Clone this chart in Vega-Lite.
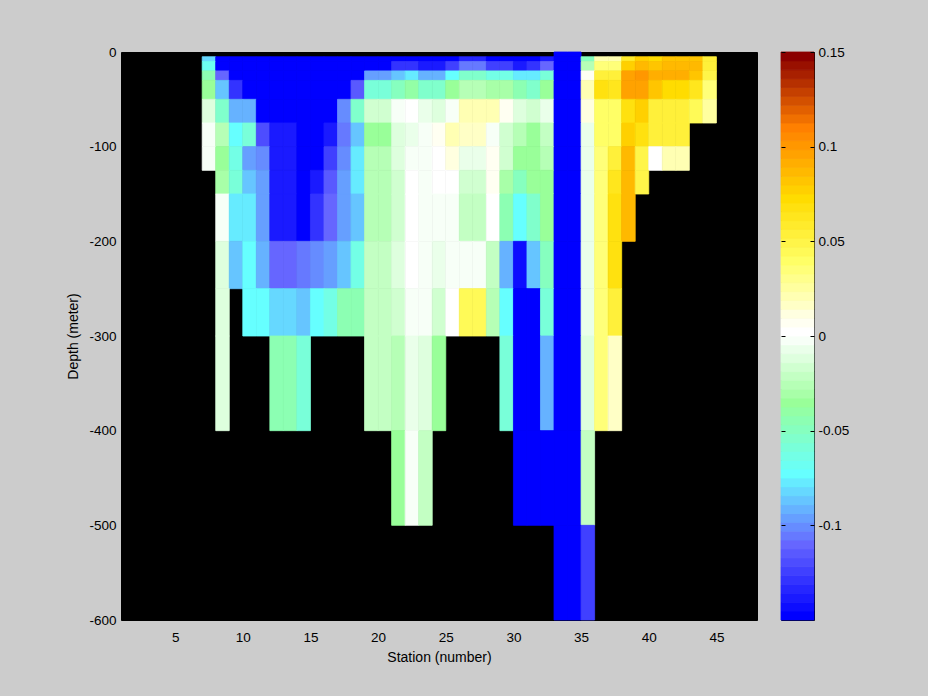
{"$schema":"https://vega.github.io/schema/vega-lite/v6.json","background":"#cccccc","padding":{"left":66,"top":44,"right":85,"bottom":33},"spacing":22,"config":{"font":"Liberation Sans","axis":{"labelFont":"Liberation Sans","titleFont":"Liberation Sans","labelFontSize":13.5,"titleFontSize":14,"titleFontWeight":"normal","labelColor":"#000000","titleColor":"#000000","grid":false}},"hconcat":[{"width":636,"height":568,"view":{"fill":"#000000","stroke":"#000000"},"data":{"values":[
{"s":33,"e":34,"v":-0.15,"t":0,"b":-5},{"s":34,"e":35,"v":-0.15,"t":0,"b":-5},
{"s":7,"e":8,"v":-0.082,"t":-5,"b":-10},{"s":8,"e":9,"v":-0.15,"t":-5,"b":-10},{"s":9,"e":10,"v":-0.15,"t":-5,"b":-10},{"s":10,"e":11,"v":-0.15,"t":-5,"b":-10},{"s":11,"e":12,"v":-0.15,"t":-5,"b":-10},{"s":12,"e":13,"v":-0.15,"t":-5,"b":-10},{"s":13,"e":14,"v":-0.15,"t":-5,"b":-10},{"s":14,"e":15,"v":-0.15,"t":-5,"b":-10},{"s":15,"e":16,"v":-0.15,"t":-5,"b":-10},{"s":16,"e":17,"v":-0.15,"t":-5,"b":-10},{"s":17,"e":18,"v":-0.15,"t":-5,"b":-10},{"s":18,"e":19,"v":-0.15,"t":-5,"b":-10},{"s":19,"e":20,"v":-0.15,"t":-5,"b":-10},{"s":20,"e":21,"v":-0.15,"t":-5,"b":-10},{"s":21,"e":22,"v":-0.15,"t":-5,"b":-10},{"s":22,"e":23,"v":-0.15,"t":-5,"b":-10},{"s":23,"e":24,"v":-0.15,"t":-5,"b":-10},{"s":24,"e":25,"v":-0.15,"t":-5,"b":-10},{"s":25,"e":26,"v":-0.15,"t":-5,"b":-10},{"s":26,"e":27,"v":-0.135,"t":-5,"b":-10},{"s":27,"e":28,"v":-0.135,"t":-5,"b":-10},{"s":28,"e":29,"v":-0.15,"t":-5,"b":-10},{"s":29,"e":30,"v":-0.15,"t":-5,"b":-10},{"s":30,"e":31,"v":-0.15,"t":-5,"b":-10},{"s":31,"e":32,"v":-0.15,"t":-5,"b":-10},{"s":32,"e":33,"v":-0.138,"t":-5,"b":-10},{"s":33,"e":34,"v":-0.15,"t":-5,"b":-10},{"s":34,"e":35,"v":-0.15,"t":-5,"b":-10},{"s":35,"e":36,"v":-0.05,"t":-5,"b":-10},{"s":36,"e":37,"v":0.022,"t":-5,"b":-10},{"s":37,"e":38,"v":0.022,"t":-5,"b":-10},{"s":38,"e":39,"v":0.06,"t":-5,"b":-10},{"s":39,"e":40,"v":0.075,"t":-5,"b":-10},{"s":40,"e":41,"v":0.072,"t":-5,"b":-10},{"s":41,"e":42,"v":0.083,"t":-5,"b":-10},{"s":42,"e":43,"v":0.083,"t":-5,"b":-10},{"s":43,"e":44,"v":0.083,"t":-5,"b":-10},{"s":44,"e":45,"v":0.055,"t":-5,"b":-10},
{"s":7,"e":8,"v":-0.068,"t":-10,"b":-20},{"s":8,"e":9,"v":-0.15,"t":-10,"b":-20},{"s":9,"e":10,"v":-0.15,"t":-10,"b":-20},{"s":10,"e":11,"v":-0.15,"t":-10,"b":-20},{"s":11,"e":12,"v":-0.15,"t":-10,"b":-20},{"s":12,"e":13,"v":-0.15,"t":-10,"b":-20},{"s":13,"e":14,"v":-0.15,"t":-10,"b":-20},{"s":14,"e":15,"v":-0.15,"t":-10,"b":-20},{"s":15,"e":16,"v":-0.15,"t":-10,"b":-20},{"s":16,"e":17,"v":-0.15,"t":-10,"b":-20},{"s":17,"e":18,"v":-0.15,"t":-10,"b":-20},{"s":18,"e":19,"v":-0.15,"t":-10,"b":-20},{"s":19,"e":20,"v":-0.15,"t":-10,"b":-20},{"s":20,"e":21,"v":-0.15,"t":-10,"b":-20},{"s":21,"e":22,"v":-0.13,"t":-10,"b":-20},{"s":22,"e":23,"v":-0.13,"t":-10,"b":-20},{"s":23,"e":24,"v":-0.14,"t":-10,"b":-20},{"s":24,"e":25,"v":-0.14,"t":-10,"b":-20},{"s":25,"e":26,"v":-0.125,"t":-10,"b":-20},{"s":26,"e":27,"v":-0.105,"t":-10,"b":-20},{"s":27,"e":28,"v":-0.105,"t":-10,"b":-20},{"s":28,"e":29,"v":-0.125,"t":-10,"b":-20},{"s":29,"e":30,"v":-0.125,"t":-10,"b":-20},{"s":30,"e":31,"v":-0.138,"t":-10,"b":-20},{"s":31,"e":32,"v":-0.13,"t":-10,"b":-20},{"s":32,"e":33,"v":-0.11,"t":-10,"b":-20},{"s":33,"e":34,"v":-0.15,"t":-10,"b":-20},{"s":34,"e":35,"v":-0.15,"t":-10,"b":-20},{"s":35,"e":36,"v":-0.028,"t":-10,"b":-20},{"s":36,"e":37,"v":0.033,"t":-10,"b":-20},{"s":37,"e":38,"v":0.033,"t":-10,"b":-20},{"s":38,"e":39,"v":0.076,"t":-10,"b":-20},{"s":39,"e":40,"v":0.087,"t":-10,"b":-20},{"s":40,"e":41,"v":0.082,"t":-10,"b":-20},{"s":41,"e":42,"v":0.087,"t":-10,"b":-20},{"s":42,"e":43,"v":0.087,"t":-10,"b":-20},{"s":43,"e":44,"v":0.087,"t":-10,"b":-20},{"s":44,"e":45,"v":0.055,"t":-10,"b":-20},
{"s":7,"e":8,"v":-0.045,"t":-20,"b":-30},{"s":8,"e":9,"v":-0.11,"t":-20,"b":-30},{"s":9,"e":10,"v":-0.15,"t":-20,"b":-30},{"s":10,"e":11,"v":-0.15,"t":-20,"b":-30},{"s":11,"e":12,"v":-0.15,"t":-20,"b":-30},{"s":12,"e":13,"v":-0.15,"t":-20,"b":-30},{"s":13,"e":14,"v":-0.15,"t":-20,"b":-30},{"s":14,"e":15,"v":-0.15,"t":-20,"b":-30},{"s":15,"e":16,"v":-0.15,"t":-20,"b":-30},{"s":16,"e":17,"v":-0.15,"t":-20,"b":-30},{"s":17,"e":18,"v":-0.15,"t":-20,"b":-30},{"s":18,"e":19,"v":-0.15,"t":-20,"b":-30},{"s":19,"e":20,"v":-0.095,"t":-20,"b":-30},{"s":20,"e":21,"v":-0.095,"t":-20,"b":-30},{"s":21,"e":22,"v":-0.085,"t":-20,"b":-30},{"s":22,"e":23,"v":-0.078,"t":-20,"b":-30},{"s":23,"e":24,"v":-0.09,"t":-20,"b":-30},{"s":24,"e":25,"v":-0.09,"t":-20,"b":-30},{"s":25,"e":26,"v":-0.074,"t":-20,"b":-30},{"s":26,"e":27,"v":-0.052,"t":-20,"b":-30},{"s":27,"e":28,"v":-0.052,"t":-20,"b":-30},{"s":28,"e":29,"v":-0.065,"t":-20,"b":-30},{"s":29,"e":30,"v":-0.065,"t":-20,"b":-30},{"s":30,"e":31,"v":-0.078,"t":-20,"b":-30},{"s":31,"e":32,"v":-0.078,"t":-20,"b":-30},{"s":32,"e":33,"v":-0.06,"t":-20,"b":-30},{"s":33,"e":34,"v":-0.15,"t":-20,"b":-30},{"s":34,"e":35,"v":-0.15,"t":-20,"b":-30},{"s":35,"e":36,"v":0.008,"t":-20,"b":-30},{"s":36,"e":37,"v":0.056,"t":-20,"b":-30},{"s":37,"e":38,"v":0.056,"t":-20,"b":-30},{"s":38,"e":39,"v":0.095,"t":-20,"b":-30},{"s":39,"e":40,"v":0.103,"t":-20,"b":-30},{"s":40,"e":41,"v":0.091,"t":-20,"b":-30},{"s":41,"e":42,"v":0.091,"t":-20,"b":-30},{"s":42,"e":43,"v":0.091,"t":-20,"b":-30},{"s":43,"e":44,"v":0.083,"t":-20,"b":-30},{"s":44,"e":45,"v":0.05,"t":-20,"b":-30},
{"s":7,"e":8,"v":-0.033,"t":-30,"b":-50},{"s":8,"e":9,"v":-0.085,"t":-30,"b":-50},{"s":9,"e":10,"v":-0.13,"t":-30,"b":-50},{"s":10,"e":11,"v":-0.15,"t":-30,"b":-50},{"s":11,"e":12,"v":-0.15,"t":-30,"b":-50},{"s":12,"e":13,"v":-0.15,"t":-30,"b":-50},{"s":13,"e":14,"v":-0.15,"t":-30,"b":-50},{"s":14,"e":15,"v":-0.15,"t":-30,"b":-50},{"s":15,"e":16,"v":-0.15,"t":-30,"b":-50},{"s":16,"e":17,"v":-0.15,"t":-30,"b":-50},{"s":17,"e":18,"v":-0.15,"t":-30,"b":-50},{"s":18,"e":19,"v":-0.115,"t":-30,"b":-50},{"s":19,"e":20,"v":-0.06,"t":-30,"b":-50},{"s":20,"e":21,"v":-0.06,"t":-30,"b":-50},{"s":21,"e":22,"v":-0.047,"t":-30,"b":-50},{"s":22,"e":23,"v":-0.042,"t":-30,"b":-50},{"s":23,"e":24,"v":-0.055,"t":-30,"b":-50},{"s":24,"e":25,"v":-0.055,"t":-30,"b":-50},{"s":25,"e":26,"v":-0.037,"t":-30,"b":-50},{"s":26,"e":27,"v":-0.024,"t":-30,"b":-50},{"s":27,"e":28,"v":-0.024,"t":-30,"b":-50},{"s":28,"e":29,"v":-0.03,"t":-30,"b":-50},{"s":29,"e":30,"v":-0.03,"t":-30,"b":-50},{"s":30,"e":31,"v":-0.043,"t":-30,"b":-50},{"s":31,"e":32,"v":-0.052,"t":-30,"b":-50},{"s":32,"e":33,"v":-0.035,"t":-30,"b":-50},{"s":33,"e":34,"v":-0.15,"t":-30,"b":-50},{"s":34,"e":35,"v":-0.15,"t":-30,"b":-50},{"s":35,"e":36,"v":0.022,"t":-30,"b":-50},{"s":36,"e":37,"v":0.069,"t":-30,"b":-50},{"s":37,"e":38,"v":0.064,"t":-30,"b":-50},{"s":38,"e":39,"v":0.095,"t":-30,"b":-50},{"s":39,"e":40,"v":0.095,"t":-30,"b":-50},{"s":40,"e":41,"v":0.083,"t":-30,"b":-50},{"s":41,"e":42,"v":0.074,"t":-30,"b":-50},{"s":42,"e":43,"v":0.074,"t":-30,"b":-50},{"s":43,"e":44,"v":0.064,"t":-30,"b":-50},{"s":44,"e":45,"v":0.037,"t":-30,"b":-50},
{"s":7,"e":8,"v":-0.013,"t":-50,"b":-75},{"s":8,"e":9,"v":-0.055,"t":-50,"b":-75},{"s":9,"e":10,"v":-0.09,"t":-50,"b":-75},{"s":10,"e":11,"v":-0.09,"t":-50,"b":-75},{"s":11,"e":12,"v":-0.15,"t":-50,"b":-75},{"s":12,"e":13,"v":-0.15,"t":-50,"b":-75},{"s":13,"e":14,"v":-0.15,"t":-50,"b":-75},{"s":14,"e":15,"v":-0.15,"t":-50,"b":-75},{"s":15,"e":16,"v":-0.15,"t":-50,"b":-75},{"s":16,"e":17,"v":-0.15,"t":-50,"b":-75},{"s":17,"e":18,"v":-0.1,"t":-50,"b":-75},{"s":18,"e":19,"v":-0.052,"t":-50,"b":-75},{"s":19,"e":20,"v":-0.017,"t":-50,"b":-75},{"s":20,"e":21,"v":-0.017,"t":-50,"b":-75},{"s":21,"e":22,"v":-0.002,"t":-50,"b":-75},{"s":22,"e":23,"v":0.004,"t":-50,"b":-75},{"s":23,"e":24,"v":-0.007,"t":-50,"b":-75},{"s":24,"e":25,"v":-0.011,"t":-50,"b":-75},{"s":25,"e":26,"v":-0.003,"t":-50,"b":-75},{"s":26,"e":27,"v":0.02,"t":-50,"b":-75},{"s":27,"e":28,"v":0.02,"t":-50,"b":-75},{"s":28,"e":29,"v":0.02,"t":-50,"b":-75},{"s":29,"e":30,"v":0.007,"t":-50,"b":-75},{"s":30,"e":31,"v":-0.011,"t":-50,"b":-75},{"s":31,"e":32,"v":-0.017,"t":-50,"b":-75},{"s":32,"e":33,"v":-0.005,"t":-50,"b":-75},{"s":33,"e":34,"v":-0.15,"t":-50,"b":-75},{"s":34,"e":35,"v":-0.15,"t":-50,"b":-75},{"s":35,"e":36,"v":0.013,"t":-50,"b":-75},{"s":36,"e":37,"v":0.041,"t":-50,"b":-75},{"s":37,"e":38,"v":0.041,"t":-50,"b":-75},{"s":38,"e":39,"v":0.068,"t":-50,"b":-75},{"s":39,"e":40,"v":0.076,"t":-50,"b":-75},{"s":40,"e":41,"v":0.054,"t":-50,"b":-75},{"s":41,"e":42,"v":0.054,"t":-50,"b":-75},{"s":42,"e":43,"v":0.054,"t":-50,"b":-75},{"s":43,"e":44,"v":0.045,"t":-50,"b":-75},{"s":44,"e":45,"v":0.024,"t":-50,"b":-75},
{"s":7,"e":8,"v":-0.001,"t":-75,"b":-100},{"s":8,"e":9,"v":-0.028,"t":-75,"b":-100},{"s":9,"e":10,"v":-0.074,"t":-75,"b":-100},{"s":10,"e":11,"v":-0.06,"t":-75,"b":-100},{"s":11,"e":12,"v":-0.12,"t":-75,"b":-100},{"s":12,"e":13,"v":-0.14,"t":-75,"b":-100},{"s":13,"e":14,"v":-0.14,"t":-75,"b":-100},{"s":14,"e":15,"v":-0.15,"t":-75,"b":-100},{"s":15,"e":16,"v":-0.15,"t":-75,"b":-100},{"s":16,"e":17,"v":-0.14,"t":-75,"b":-100},{"s":17,"e":18,"v":-0.105,"t":-75,"b":-100},{"s":18,"e":19,"v":-0.085,"t":-75,"b":-100},{"s":19,"e":20,"v":-0.037,"t":-75,"b":-100},{"s":20,"e":21,"v":-0.037,"t":-75,"b":-100},{"s":21,"e":22,"v":-0.011,"t":-75,"b":-100},{"s":22,"e":23,"v":-0.007,"t":-75,"b":-100},{"s":23,"e":24,"v":-0.002,"t":-75,"b":-100},{"s":24,"e":25,"v":0.008,"t":-75,"b":-100},{"s":25,"e":26,"v":0.02,"t":-75,"b":-100},{"s":26,"e":27,"v":0.015,"t":-75,"b":-100},{"s":27,"e":28,"v":0.015,"t":-75,"b":-100},{"s":28,"e":29,"v":-0.002,"t":-75,"b":-100},{"s":29,"e":30,"v":-0.017,"t":-75,"b":-100},{"s":30,"e":31,"v":-0.028,"t":-75,"b":-100},{"s":31,"e":32,"v":-0.033,"t":-75,"b":-100},{"s":32,"e":33,"v":-0.022,"t":-75,"b":-100},{"s":33,"e":34,"v":-0.15,"t":-75,"b":-100},{"s":34,"e":35,"v":-0.15,"t":-75,"b":-100},{"s":35,"e":36,"v":-0.007,"t":-75,"b":-100},{"s":36,"e":37,"v":0.04,"t":-75,"b":-100},{"s":37,"e":38,"v":0.04,"t":-75,"b":-100},{"s":38,"e":39,"v":0.076,"t":-75,"b":-100},{"s":39,"e":40,"v":0.068,"t":-75,"b":-100},{"s":40,"e":41,"v":0.055,"t":-75,"b":-100},{"s":41,"e":42,"v":0.052,"t":-75,"b":-100},{"s":42,"e":43,"v":0.052,"t":-75,"b":-100},
{"s":7,"e":8,"v":-0.002,"t":-100,"b":-125},{"s":8,"e":9,"v":-0.037,"t":-100,"b":-125},{"s":9,"e":10,"v":-0.065,"t":-100,"b":-125},{"s":10,"e":11,"v":-0.095,"t":-100,"b":-125},{"s":11,"e":12,"v":-0.1,"t":-100,"b":-125},{"s":12,"e":13,"v":-0.14,"t":-100,"b":-125},{"s":13,"e":14,"v":-0.14,"t":-100,"b":-125},{"s":14,"e":15,"v":-0.15,"t":-100,"b":-125},{"s":15,"e":16,"v":-0.15,"t":-100,"b":-125},{"s":16,"e":17,"v":-0.125,"t":-100,"b":-125},{"s":17,"e":18,"v":-0.1,"t":-100,"b":-125},{"s":18,"e":19,"v":-0.078,"t":-100,"b":-125},{"s":19,"e":20,"v":-0.026,"t":-100,"b":-125},{"s":20,"e":21,"v":-0.026,"t":-100,"b":-125},{"s":21,"e":22,"v":-0.011,"t":-100,"b":-125},{"s":22,"e":23,"v":-0.003,"t":-100,"b":-125},{"s":23,"e":24,"v":-0.002,"t":-100,"b":-125},{"s":24,"e":25,"v":0.003,"t":-100,"b":-125},{"s":25,"e":26,"v":0.01,"t":-100,"b":-125},{"s":26,"e":27,"v":-0.007,"t":-100,"b":-125},{"s":27,"e":28,"v":-0.007,"t":-100,"b":-125},{"s":28,"e":29,"v":0.008,"t":-100,"b":-125},{"s":29,"e":30,"v":-0.017,"t":-100,"b":-125},{"s":30,"e":31,"v":-0.035,"t":-100,"b":-125},{"s":31,"e":32,"v":-0.035,"t":-100,"b":-125},{"s":32,"e":33,"v":-0.028,"t":-100,"b":-125},{"s":33,"e":34,"v":-0.15,"t":-100,"b":-125},{"s":34,"e":35,"v":-0.15,"t":-100,"b":-125},{"s":35,"e":36,"v":-0.006,"t":-100,"b":-125},{"s":36,"e":37,"v":0.037,"t":-100,"b":-125},{"s":37,"e":38,"v":0.055,"t":-100,"b":-125},{"s":38,"e":39,"v":0.087,"t":-100,"b":-125},{"s":39,"e":40,"v":0.049,"t":-100,"b":-125},{"s":40,"e":41,"v":0.003,"t":-100,"b":-125},{"s":41,"e":42,"v":0.022,"t":-100,"b":-125},{"s":42,"e":43,"v":0.022,"t":-100,"b":-125},
{"s":8,"e":9,"v":-0.03,"t":-125,"b":-150},{"s":9,"e":10,"v":-0.06,"t":-125,"b":-150},{"s":10,"e":11,"v":-0.085,"t":-125,"b":-150},{"s":11,"e":12,"v":-0.095,"t":-125,"b":-150},{"s":12,"e":13,"v":-0.14,"t":-125,"b":-150},{"s":13,"e":14,"v":-0.14,"t":-125,"b":-150},{"s":14,"e":15,"v":-0.148,"t":-125,"b":-150},{"s":15,"e":16,"v":-0.14,"t":-125,"b":-150},{"s":16,"e":17,"v":-0.115,"t":-125,"b":-150},{"s":17,"e":18,"v":-0.095,"t":-125,"b":-150},{"s":18,"e":19,"v":-0.078,"t":-125,"b":-150},{"s":19,"e":20,"v":-0.026,"t":-125,"b":-150},{"s":20,"e":21,"v":-0.026,"t":-125,"b":-150},{"s":21,"e":22,"v":-0.017,"t":-125,"b":-150},{"s":22,"e":23,"v":0.004,"t":-125,"b":-150},{"s":23,"e":24,"v":-0.002,"t":-125,"b":-150},{"s":24,"e":25,"v":0.002,"t":-125,"b":-150},{"s":25,"e":26,"v":0.002,"t":-125,"b":-150},{"s":26,"e":27,"v":-0.018,"t":-125,"b":-150},{"s":27,"e":28,"v":-0.018,"t":-125,"b":-150},{"s":28,"e":29,"v":0.008,"t":-125,"b":-150},{"s":29,"e":30,"v":-0.03,"t":-125,"b":-150},{"s":30,"e":31,"v":-0.047,"t":-125,"b":-150},{"s":31,"e":32,"v":-0.037,"t":-125,"b":-150},{"s":32,"e":33,"v":-0.033,"t":-125,"b":-150},{"s":33,"e":34,"v":-0.15,"t":-125,"b":-150},{"s":34,"e":35,"v":-0.15,"t":-125,"b":-150},{"s":35,"e":36,"v":-0.006,"t":-125,"b":-150},{"s":36,"e":37,"v":0.037,"t":-125,"b":-150},{"s":37,"e":38,"v":0.062,"t":-125,"b":-150},{"s":38,"e":39,"v":0.087,"t":-125,"b":-150},{"s":39,"e":40,"v":0.049,"t":-125,"b":-150},
{"s":8,"e":9,"v":-0.002,"t":-150,"b":-200},{"s":9,"e":10,"v":-0.079,"t":-150,"b":-200},{"s":10,"e":11,"v":-0.079,"t":-150,"b":-200},{"s":11,"e":12,"v":-0.095,"t":-150,"b":-200},{"s":12,"e":13,"v":-0.14,"t":-150,"b":-200},{"s":13,"e":14,"v":-0.14,"t":-150,"b":-200},{"s":14,"e":15,"v":-0.146,"t":-150,"b":-200},{"s":15,"e":16,"v":-0.13,"t":-150,"b":-200},{"s":16,"e":17,"v":-0.11,"t":-150,"b":-200},{"s":17,"e":18,"v":-0.095,"t":-150,"b":-200},{"s":18,"e":19,"v":-0.085,"t":-150,"b":-200},{"s":19,"e":20,"v":-0.026,"t":-150,"b":-200},{"s":20,"e":21,"v":-0.026,"t":-150,"b":-200},{"s":21,"e":22,"v":-0.017,"t":-150,"b":-200},{"s":22,"e":23,"v":0.003,"t":-150,"b":-200},{"s":23,"e":24,"v":-0.002,"t":-150,"b":-200},{"s":24,"e":25,"v":-0.002,"t":-150,"b":-200},{"s":25,"e":26,"v":-0.002,"t":-150,"b":-200},{"s":26,"e":27,"v":-0.022,"t":-150,"b":-200},{"s":27,"e":28,"v":-0.022,"t":-150,"b":-200},{"s":28,"e":29,"v":0.004,"t":-150,"b":-200},{"s":29,"e":30,"v":-0.043,"t":-150,"b":-200},{"s":30,"e":31,"v":-0.074,"t":-150,"b":-200},{"s":31,"e":32,"v":-0.052,"t":-150,"b":-200},{"s":32,"e":33,"v":-0.035,"t":-150,"b":-200},{"s":33,"e":34,"v":-0.15,"t":-150,"b":-200},{"s":34,"e":35,"v":-0.15,"t":-150,"b":-200},{"s":35,"e":36,"v":-0.006,"t":-150,"b":-200},{"s":36,"e":37,"v":0.037,"t":-150,"b":-200},{"s":37,"e":38,"v":0.068,"t":-150,"b":-200},{"s":38,"e":39,"v":0.087,"t":-150,"b":-200},
{"s":8,"e":9,"v":-0.012,"t":-200,"b":-250},{"s":9,"e":10,"v":-0.085,"t":-200,"b":-250},{"s":10,"e":11,"v":-0.074,"t":-200,"b":-250},{"s":11,"e":12,"v":-0.09,"t":-200,"b":-250},{"s":12,"e":13,"v":-0.11,"t":-200,"b":-250},{"s":13,"e":14,"v":-0.11,"t":-200,"b":-250},{"s":14,"e":15,"v":-0.105,"t":-200,"b":-250},{"s":15,"e":16,"v":-0.1,"t":-200,"b":-250},{"s":16,"e":17,"v":-0.095,"t":-200,"b":-250},{"s":17,"e":18,"v":-0.085,"t":-200,"b":-250},{"s":18,"e":19,"v":-0.062,"t":-200,"b":-250},{"s":19,"e":20,"v":-0.02,"t":-200,"b":-250},{"s":20,"e":21,"v":-0.02,"t":-200,"b":-250},{"s":21,"e":22,"v":-0.011,"t":-200,"b":-250},{"s":22,"e":23,"v":0.003,"t":-200,"b":-250},{"s":23,"e":24,"v":-0.002,"t":-200,"b":-250},{"s":24,"e":25,"v":-0.007,"t":-200,"b":-250},{"s":25,"e":26,"v":-0.002,"t":-200,"b":-250},{"s":26,"e":27,"v":-0.002,"t":-200,"b":-250},{"s":27,"e":28,"v":-0.002,"t":-200,"b":-250},{"s":28,"e":29,"v":-0.02,"t":-200,"b":-250},{"s":29,"e":30,"v":-0.093,"t":-200,"b":-250},{"s":30,"e":31,"v":-0.143,"t":-200,"b":-250},{"s":31,"e":32,"v":-0.085,"t":-200,"b":-250},{"s":32,"e":33,"v":-0.05,"t":-200,"b":-250},{"s":33,"e":34,"v":-0.15,"t":-200,"b":-250},{"s":34,"e":35,"v":-0.15,"t":-200,"b":-250},{"s":35,"e":36,"v":-0.006,"t":-200,"b":-250},{"s":36,"e":37,"v":0.037,"t":-200,"b":-250},{"s":37,"e":38,"v":0.068,"t":-200,"b":-250},
{"s":8,"e":9,"v":-0.012,"t":-250,"b":-300},{"s":10,"e":11,"v":-0.074,"t":-250,"b":-300},{"s":11,"e":12,"v":-0.074,"t":-250,"b":-300},{"s":12,"e":13,"v":-0.08,"t":-250,"b":-300},{"s":13,"e":14,"v":-0.08,"t":-250,"b":-300},{"s":14,"e":15,"v":-0.085,"t":-250,"b":-300},{"s":15,"e":16,"v":-0.074,"t":-250,"b":-300},{"s":16,"e":17,"v":-0.065,"t":-250,"b":-300},{"s":17,"e":18,"v":-0.045,"t":-250,"b":-300},{"s":18,"e":19,"v":-0.045,"t":-250,"b":-300},{"s":19,"e":20,"v":-0.02,"t":-250,"b":-300},{"s":20,"e":21,"v":-0.02,"t":-250,"b":-300},{"s":21,"e":22,"v":-0.017,"t":-250,"b":-300},{"s":22,"e":23,"v":-0.002,"t":-250,"b":-300},{"s":23,"e":24,"v":-0.002,"t":-250,"b":-300},{"s":24,"e":25,"v":-0.017,"t":-250,"b":-300},{"s":25,"e":26,"v":0.003,"t":-250,"b":-300},{"s":26,"e":27,"v":0.045,"t":-250,"b":-300},{"s":27,"e":28,"v":0.045,"t":-250,"b":-300},{"s":28,"e":29,"v":-0.024,"t":-250,"b":-300},{"s":29,"e":30,"v":-0.074,"t":-250,"b":-300},{"s":30,"e":31,"v":-0.15,"t":-250,"b":-300},{"s":31,"e":32,"v":-0.15,"t":-250,"b":-300},{"s":32,"e":33,"v":-0.06,"t":-250,"b":-300},{"s":33,"e":34,"v":-0.15,"t":-250,"b":-300},{"s":34,"e":35,"v":-0.15,"t":-250,"b":-300},{"s":35,"e":36,"v":-0.006,"t":-250,"b":-300},{"s":36,"e":37,"v":0.037,"t":-250,"b":-300},{"s":37,"e":38,"v":0.052,"t":-250,"b":-300},
{"s":8,"e":9,"v":-0.012,"t":-300,"b":-400},{"s":12,"e":13,"v":-0.045,"t":-300,"b":-400},{"s":13,"e":14,"v":-0.045,"t":-300,"b":-400},{"s":14,"e":15,"v":-0.06,"t":-300,"b":-400},{"s":19,"e":20,"v":-0.023,"t":-300,"b":-400},{"s":20,"e":21,"v":-0.023,"t":-300,"b":-400},{"s":21,"e":22,"v":-0.027,"t":-300,"b":-400},{"s":22,"e":23,"v":-0.005,"t":-300,"b":-400},{"s":23,"e":24,"v":-0.011,"t":-300,"b":-400},{"s":24,"e":25,"v":-0.035,"t":-300,"b":-400},{"s":29,"e":30,"v":-0.06,"t":-300,"b":-400},{"s":30,"e":31,"v":-0.15,"t":-300,"b":-400},{"s":31,"e":32,"v":-0.15,"t":-300,"b":-400},{"s":32,"e":33,"v":-0.093,"t":-300,"b":-400},{"s":33,"e":34,"v":-0.15,"t":-300,"b":-400},{"s":34,"e":35,"v":-0.15,"t":-300,"b":-400},{"s":35,"e":36,"v":-0.011,"t":-300,"b":-400},{"s":36,"e":37,"v":0.037,"t":-300,"b":-400},{"s":37,"e":38,"v":0.018,"t":-300,"b":-400},
{"s":21,"e":22,"v":-0.037,"t":-400,"b":-500},{"s":22,"e":23,"v":-0.001,"t":-400,"b":-500},{"s":23,"e":24,"v":-0.02,"t":-400,"b":-500},{"s":30,"e":31,"v":-0.15,"t":-400,"b":-500},{"s":31,"e":32,"v":-0.15,"t":-400,"b":-500},{"s":32,"e":33,"v":-0.15,"t":-400,"b":-500},{"s":33,"e":34,"v":-0.15,"t":-400,"b":-500},{"s":34,"e":35,"v":-0.15,"t":-400,"b":-500},{"s":35,"e":36,"v":-0.022,"t":-400,"b":-500},
{"s":33,"e":34,"v":-0.15,"t":-500,"b":-600},{"s":34,"e":35,"v":-0.15,"t":-500,"b":-600},{"s":35,"e":36,"v":-0.125,"t":-500,"b":-600}
]},"mark":{"type":"rect","strokeWidth":0.8},"encoding":{"x":{"field":"s","type":"quantitative","scale":{"domain":[1,48],"nice":false,"zero":false},"axis":{"title":"Station (number)","values":[5,10,15,20,25,30,35,40,45],"ticks":false,"domain":false,"labelPadding":10,"titlePadding":7}},"x2":{"field":"e"},"y":{"field":"t","type":"quantitative","scale":{"domain":[-600,0],"nice":false,"zero":false},"axis":{"title":"Depth (meter)","values":[0,-100,-200,-300,-400,-500,-600],"ticks":false,"domain":false,"labelPadding":5,"titlePadding":8,"labelExpr":"''+datum.value"}},"y2":{"field":"b"},"color":{"field":"v","type":"quantitative","legend":null,"scale":{"type":"quantize","domain":[-0.15,0.15],"range":["#0000ff","#0d0dff","#1a1aff","#2626ff","#3333ff","#4040ff","#4d4dff","#5959ff","#6666ff","#6679ff","#668cff","#669fff","#66b2ff","#66c5ff","#66d8ff","#66ebff","#66ffff","#6cfff2","#73ffe6","#79ffd9","#80ffcc","#86ffbf","#8cffb3","#93ffa6","#99ff99","#a8ffa8","#b6ffb6","#c3ffc3","#d0ffd0","#deffde","#eaffea","#f7fff7","#ffffff","#fffff2","#ffffe0","#ffffc6","#ffffb3","#ffff9f","#ffff8c","#ffff79","#ffff66","#fffa57","#fff549","#fff03a","#ffeb2c","#ffe61d","#ffe10f","#ffdc00","#ffd000","#ffc500","#ffb900","#ffae00","#ffa200","#ff9700","#ff8b00","#ff8000","#f07000","#e26000","#d35000","#c54000","#b63000","#a82000","#991000","#8b0000"]}},"stroke":{"field":"v","type":"quantitative","legend":null,"scale":{"type":"quantize","domain":[-0.15,0.15],"range":["#0000ff","#0d0dff","#1a1aff","#2626ff","#3333ff","#4040ff","#4d4dff","#5959ff","#6666ff","#6679ff","#668cff","#669fff","#66b2ff","#66c5ff","#66d8ff","#66ebff","#66ffff","#6cfff2","#73ffe6","#79ffd9","#80ffcc","#86ffbf","#8cffb3","#93ffa6","#99ff99","#a8ffa8","#b6ffb6","#c3ffc3","#d0ffd0","#deffde","#eaffea","#f7fff7","#ffffff","#fffff2","#ffffe0","#ffffc6","#ffffb3","#ffff9f","#ffff8c","#ffff79","#ffff66","#fffa57","#fff549","#fff03a","#ffeb2c","#ffe61d","#ffe10f","#ffdc00","#ffd000","#ffc500","#ffb900","#ffae00","#ffa200","#ff9700","#ff8b00","#ff8000","#f07000","#e26000","#d35000","#c54000","#b63000","#a82000","#991000","#8b0000"]}}}},{"width":33,"height":568,"view":{"stroke":"#000000"},"data":{"values":[{"lo":-0.15,"hi":-0.1453,"v":-0.1477},{"lo":-0.1453,"hi":-0.1406,"v":-0.143},{"lo":-0.1406,"hi":-0.1359,"v":-0.1383},{"lo":-0.1359,"hi":-0.1313,"v":-0.1336},{"lo":-0.1313,"hi":-0.1266,"v":-0.1289},{"lo":-0.1266,"hi":-0.1219,"v":-0.1242},{"lo":-0.1219,"hi":-0.1172,"v":-0.1195},{"lo":-0.1172,"hi":-0.1125,"v":-0.1148},{"lo":-0.1125,"hi":-0.1078,"v":-0.1102},{"lo":-0.1078,"hi":-0.1031,"v":-0.1055},{"lo":-0.1031,"hi":-0.0984,"v":-0.1008},{"lo":-0.0984,"hi":-0.0938,"v":-0.0961},{"lo":-0.0938,"hi":-0.0891,"v":-0.0914},{"lo":-0.0891,"hi":-0.0844,"v":-0.0867},{"lo":-0.0844,"hi":-0.0797,"v":-0.082},{"lo":-0.0797,"hi":-0.075,"v":-0.0773},{"lo":-0.075,"hi":-0.0703,"v":-0.0727},{"lo":-0.0703,"hi":-0.0656,"v":-0.068},{"lo":-0.0656,"hi":-0.0609,"v":-0.0633},{"lo":-0.0609,"hi":-0.0563,"v":-0.0586},{"lo":-0.0563,"hi":-0.0516,"v":-0.0539},{"lo":-0.0516,"hi":-0.0469,"v":-0.0492},{"lo":-0.0469,"hi":-0.0422,"v":-0.0445},{"lo":-0.0422,"hi":-0.0375,"v":-0.0398},{"lo":-0.0375,"hi":-0.0328,"v":-0.0352},{"lo":-0.0328,"hi":-0.0281,"v":-0.0305},{"lo":-0.0281,"hi":-0.0234,"v":-0.0258},{"lo":-0.0234,"hi":-0.0188,"v":-0.0211},{"lo":-0.0188,"hi":-0.0141,"v":-0.0164},{"lo":-0.0141,"hi":-0.0094,"v":-0.0117},{"lo":-0.0094,"hi":-0.0047,"v":-0.007},{"lo":-0.0047,"hi":0,"v":-0.0023},{"lo":0,"hi":0.0047,"v":0.0023},{"lo":0.0047,"hi":0.0094,"v":0.007},{"lo":0.0094,"hi":0.0141,"v":0.0117},{"lo":0.0141,"hi":0.0188,"v":0.0164},{"lo":0.0188,"hi":0.0234,"v":0.0211},{"lo":0.0234,"hi":0.0281,"v":0.0258},{"lo":0.0281,"hi":0.0328,"v":0.0305},{"lo":0.0328,"hi":0.0375,"v":0.0352},{"lo":0.0375,"hi":0.0422,"v":0.0398},{"lo":0.0422,"hi":0.0469,"v":0.0445},{"lo":0.0469,"hi":0.0516,"v":0.0492},{"lo":0.0516,"hi":0.0563,"v":0.0539},{"lo":0.0563,"hi":0.0609,"v":0.0586},{"lo":0.0609,"hi":0.0656,"v":0.0633},{"lo":0.0656,"hi":0.0703,"v":0.068},{"lo":0.0703,"hi":0.075,"v":0.0727},{"lo":0.075,"hi":0.0797,"v":0.0773},{"lo":0.0797,"hi":0.0844,"v":0.082},{"lo":0.0844,"hi":0.0891,"v":0.0867},{"lo":0.0891,"hi":0.0938,"v":0.0914},{"lo":0.0938,"hi":0.0984,"v":0.0961},{"lo":0.0984,"hi":0.1031,"v":0.1008},{"lo":0.1031,"hi":0.1078,"v":0.1055},{"lo":0.1078,"hi":0.1125,"v":0.1102},{"lo":0.1125,"hi":0.1172,"v":0.1148},{"lo":0.1172,"hi":0.1219,"v":0.1195},{"lo":0.1219,"hi":0.1266,"v":0.1242},{"lo":0.1266,"hi":0.1313,"v":0.1289},{"lo":0.1313,"hi":0.1359,"v":0.1336},{"lo":0.1359,"hi":0.1406,"v":0.1383},{"lo":0.1406,"hi":0.1453,"v":0.143},{"lo":0.1453,"hi":0.15,"v":0.1477}]},"mark":{"type":"rect","strokeWidth":0.8},"encoding":{"y":{"field":"lo","type":"quantitative","scale":{"domain":[-0.15,0.15],"nice":false,"zero":false},"axis":{"orient":"right","title":null,"values":[-0.1,-0.05,0,0.05,0.1,0.15],"domain":false,"ticks":false,"grid":true,"gridColor":"#000000","gridOpacity":1,"gridWidth":1,"gridDash":[4,25,4,0],"zindex":1,"labelPadding":4,"labelExpr":"''+datum.value"}},"y2":{"field":"hi"},"color":{"field":"v","type":"quantitative","legend":null,"scale":{"type":"quantize","domain":[-0.15,0.15],"range":["#0000ff","#0d0dff","#1a1aff","#2626ff","#3333ff","#4040ff","#4d4dff","#5959ff","#6666ff","#6679ff","#668cff","#669fff","#66b2ff","#66c5ff","#66d8ff","#66ebff","#66ffff","#6cfff2","#73ffe6","#79ffd9","#80ffcc","#86ffbf","#8cffb3","#93ffa6","#99ff99","#a8ffa8","#b6ffb6","#c3ffc3","#d0ffd0","#deffde","#eaffea","#f7fff7","#ffffff","#fffff2","#ffffe0","#ffffc6","#ffffb3","#ffff9f","#ffff8c","#ffff79","#ffff66","#fffa57","#fff549","#fff03a","#ffeb2c","#ffe61d","#ffe10f","#ffdc00","#ffd000","#ffc500","#ffb900","#ffae00","#ffa200","#ff9700","#ff8b00","#ff8000","#f07000","#e26000","#d35000","#c54000","#b63000","#a82000","#991000","#8b0000"]}},"stroke":{"field":"v","type":"quantitative","legend":null,"scale":{"type":"quantize","domain":[-0.15,0.15],"range":["#0000ff","#0d0dff","#1a1aff","#2626ff","#3333ff","#4040ff","#4d4dff","#5959ff","#6666ff","#6679ff","#668cff","#669fff","#66b2ff","#66c5ff","#66d8ff","#66ebff","#66ffff","#6cfff2","#73ffe6","#79ffd9","#80ffcc","#86ffbf","#8cffb3","#93ffa6","#99ff99","#a8ffa8","#b6ffb6","#c3ffc3","#d0ffd0","#deffde","#eaffea","#f7fff7","#ffffff","#fffff2","#ffffe0","#ffffc6","#ffffb3","#ffff9f","#ffff8c","#ffff79","#ffff66","#fffa57","#fff549","#fff03a","#ffeb2c","#ffe61d","#ffe10f","#ffdc00","#ffd000","#ffc500","#ffb900","#ffae00","#ffa200","#ff9700","#ff8b00","#ff8000","#f07000","#e26000","#d35000","#c54000","#b63000","#a82000","#991000","#8b0000"]}}}}]}
